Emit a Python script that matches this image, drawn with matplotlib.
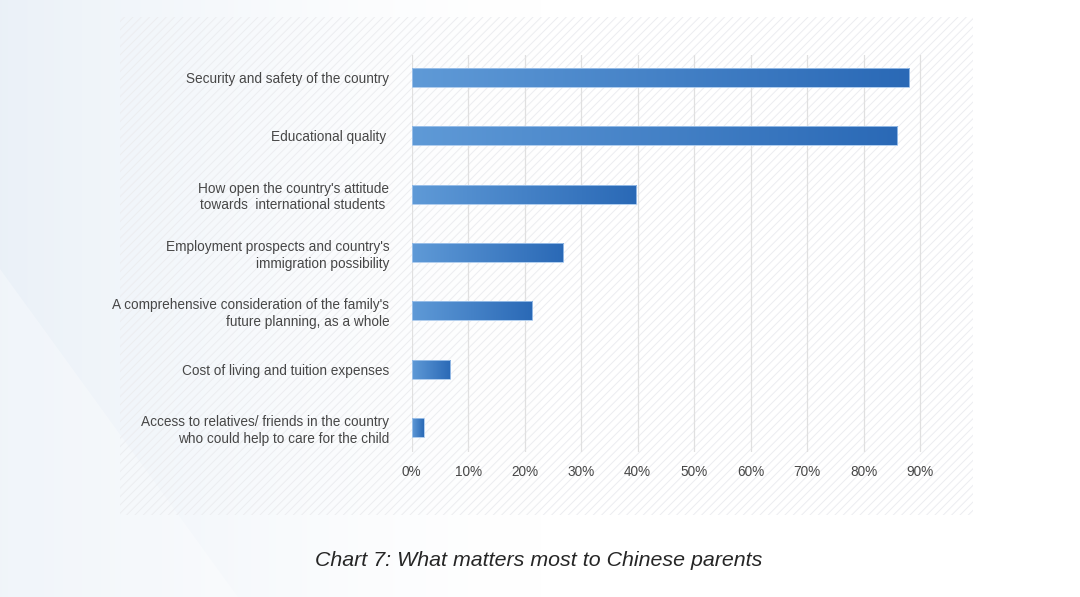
import numpy as np
import matplotlib
matplotlib.use('Agg')
import matplotlib.pyplot as plt
from matplotlib.colors import LinearSegmentedColormap
from matplotlib.patches import Rectangle, Polygon

categories = [
    'Security and safety of the country',
    'Educational quality ',
    "How open the country's attitude\ntowards  international students ",
    "Employment prospects and country's\nimmigration possibility",
    "A comprehensive consideration of the family's\nfuture planning, as a whole",
    'Cost of living and tuition expenses',
    'Access to relatives/ friends in the country\nwho could help to care for the child',
]
values = [88.1, 85.9, 39.7, 26.8, 21.3, 6.8, 2.1]
xticks = list(range(0, 100, 10))
xtick_labels = ['%d%%' % t for t in xticks]
title = 'Chart 7: What matters most to Chinese parents'

W, H = 1080, 597
fig = plt.figure(figsize=(W / 100, H / 100), dpi=100)
plt.rcParams['hatch.linewidth'] = 0.7

# page background: pale blue-grey on the left fading to white
bg = fig.add_axes([0, 0, 1, 1], zorder=-5)
bg.set_axis_off()
xx = np.linspace(0, 1, 400)
fade = np.clip(1 - xx / 0.5, 0, 1) ** 1.5
base = np.array([0.92, 0.945, 0.972])
img = 1 - (1 - base)[None, :] * fade[:, None]
bg.imshow(img[None, :, :], extent=(0, 1, 0, 1), aspect='auto')
bg.add_patch(Polygon([(0, 0.55), (0, 0), (0.22, 0)], closed=True,
                     facecolor='white', alpha=0.3, lw=0))
bg.set_xlim(0, 1)
bg.set_ylim(0, 1)

# hatched panel behind the chart
fig.patches.append(Rectangle((120 / W, 1 - 515 / H), (973 - 120) / W, (515 - 17) / H,
                             transform=fig.transFigure, facecolor='none',
                             edgecolor='#ECEDF0', hatch='////', lw=0, zorder=-1))

ax = fig.add_axes([411.7 / W, 1 - 452 / H, 565 / W, (452 - 55) / H])
ax.set_facecolor('none')

pos = np.arange(len(categories))
h = 0.325
bars = ax.barh(pos, values, height=h, color='none', edgecolor='#A4C6EC',
               linewidth=0.6, zorder=4)

cmap = LinearSegmentedColormap.from_list('bl', ['#5F9AD7', '#2A69B6'])
grad = np.linspace(0, 1, 256)[None, :]
for b, p, v in zip(bars, pos, values):
    im = ax.imshow(grad, cmap=cmap, extent=(0, v, p + h / 2, p - h / 2),
                   aspect='auto', zorder=3)
    im.set_clip_path(b)

ax.set_xlim(0, 100)
ax.set_ylim(6.42, -0.385)
ax.set_xticks(xticks)
ax.set_xticklabels(xtick_labels)
ax.set_yticks(pos)
ax.set_yticklabels(categories)
ax.grid(axis='x', color='#E0E0E0', lw=0.9, zorder=0)
ax.set_axisbelow(True)
for s in ax.spines.values():
    s.set_visible(False)
ax.tick_params(axis='both', length=0, labelsize=9.8)
ax.tick_params(axis='y', pad=16)
ax.tick_params(axis='x', pad=9)
for t in ax.get_yticklabels() + ax.get_xticklabels():
    t.set_fontfamily('Liberation Sans')
    t.set_color('#474747')
for t in ax.get_yticklabels():
    t.set_linespacing(1.25)

fig.text(539 / W, 1 - 561 / H, title, ha='center', va='center',
         fontsize=15.4, style='italic', fontfamily='Liberation Sans', color='#262626')

fig.savefig('out.png', dpi=100)
